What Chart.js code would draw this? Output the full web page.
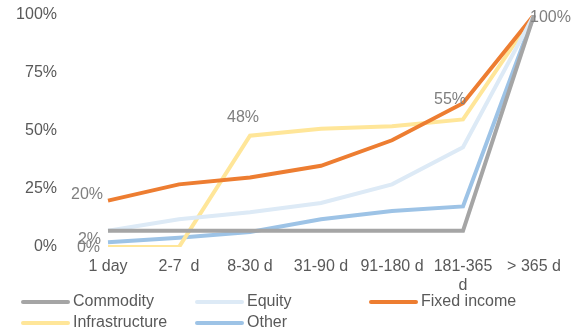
<!DOCTYPE html>
<html>
<head>
<meta charset="utf-8">
<script src="https://cdn.jsdelivr.net/npm/chart.js@4"></script>
<style>
  html, body { margin: 0; padding: 0; background: #fff; }
  #wrap { width: 578px; height: 330px; position: relative; }
</style>
</head>
<body>
<div id="wrap"><canvas id="myChart" width="578" height="330"></canvas></div>
<script>
// categories and series (cumulative share liquidated, %)
const categories = ['1 day', '2-7  d', '8-30 d', '31-90 d', '91-180 d', ['181-365', 'd'], '> 365 d'];
const commodity = [7, 7, 7, 7, 7, 7, 100];
const equity = [7, 12, 15, 19, 27, 43, 100];
const fixedIncome = [20, 27, 30, 35, 46, 62, 100];
const infrastructure = [0, 0, 48, 51, 52, 55, 100];
const other = [2, 4, 6.5, 12, 15.5, 17.5, 100];
const yTicks = [0, 25, 50, 75, 100];

// which points carry a value label (dx/dy = offset from the point)
const pointLabels = [
    { ds: 2, i: 0, align: 'right', dx: -5, dy: -6 },
    { ds: 4, i: 0, align: 'right', dx: -7, dy: -3 },
    { ds: 3, i: 0, align: 'right', dx: -8, dy: 1 },
    { ds: 3, i: 2, align: 'center', dx: -7, dy: -18 },
    { ds: 3, i: 5, align: 'center', dx: -13, dy: -20 },
    { ds: 0, i: 6, align: 'left', dx: -4, dy: 3 }
];

const FONT = '"Liberation Sans", Arial, sans-serif';
const TXT = '#595959';

const labelPlugin = {
    id: 'pointLabels',
    afterDatasetsDraw(chart) {
        const ctx = chart.ctx;
        ctx.save();
        ctx.font = '16px ' + FONT;
        ctx.fillStyle = '#7f7f7f';
        ctx.textBaseline = 'middle';
        pointLabels.forEach(function (l) {
            const pt = chart.getDatasetMeta(l.ds).data[l.i];
            const txt = Math.round(chart.data.datasets[l.ds].data[l.i]) + '%';
            ctx.textAlign = l.align;
            ctx.fillText(txt, pt.x + l.dx, pt.y + l.dy);
        });
        ctx.restore();
    }
};

const legendPlugin = {
    id: 'gridLegend',
    afterDraw(chart) {
        const ctx = chart.ctx;
        const cols = [22, 196, 370];
        const rows = [302, 323];
        ctx.save();
        ctx.font = '16px ' + FONT;
        ctx.textBaseline = 'middle';
        ctx.textAlign = 'left';
        chart.data.datasets.forEach(function (ds, k) {
            const x = cols[k % 3], y = rows[Math.floor(k / 3)];
            ctx.strokeStyle = ds.borderColor;
            ctx.lineWidth = 4;
            ctx.lineCap = 'round';
            ctx.beginPath();
            ctx.moveTo(x + 1, y);
            ctx.lineTo(x + 46, y);
            ctx.stroke();
            ctx.fillStyle = TXT;
            ctx.fillText(ds.label, x + 51, y);
        });
        ctx.restore();
    }
};

function serie(label, data, color) {
    return {
        label: label,
        data: data,
        borderColor: color,
        backgroundColor: color,
        borderWidth: 4,
        pointRadius: 0,
        tension: 0,
        fill: false
    };
}

const ctx = document.getElementById('myChart').getContext('2d');
const chart = new Chart(ctx, {
    type: 'line',
    data: {
        labels: categories,
        datasets: [
            serie('Commodity', commodity, '#A5A5A5'),
            serie('Equity', equity, '#DDEAF6'),
            serie('Fixed income', fixedIncome, '#ED7D31'),
            serie('Infrastructure', infrastructure, '#FFE699'),
            serie('Other', other, '#9DC3E6')
        ]
    },
    options: {
        responsive: false,
        animation: false,
        layout: { padding: { top: 15, right: 44, bottom: 0, left: 0 } },
        plugins: { legend: { display: false }, tooltip: { enabled: false } },
        scales: {
            x: {
                offset: false,
                grid: { display: false, drawTicks: false },
                border: { display: false },
                ticks: { color: TXT, font: { family: FONT, size: 16 }, padding: 10, maxRotation: 0, autoSkip: false },
                afterFit: function (s) { s.height = 83; s.paddingLeft = 0; s.paddingRight = 0; }
            },
            y: {
                min: 0,
                max: 100,
                grid: { display: false, drawTicks: false },
                border: { display: false },
                afterBuildTicks: function (s) { s.ticks = yTicks.map(function (v) { return { value: v }; }); },
                ticks: {
                    color: TXT,
                    font: { family: FONT, size: 16 },
                    padding: 51,
                    callback: function (v) { return v + '%'; }
                },
                afterFit: function (s) { s.width = 108; s.paddingTop = 0; s.paddingBottom = 0; }
            }
        }
    },
    plugins: [labelPlugin, legendPlugin]
});
</script>
</body>
</html>
